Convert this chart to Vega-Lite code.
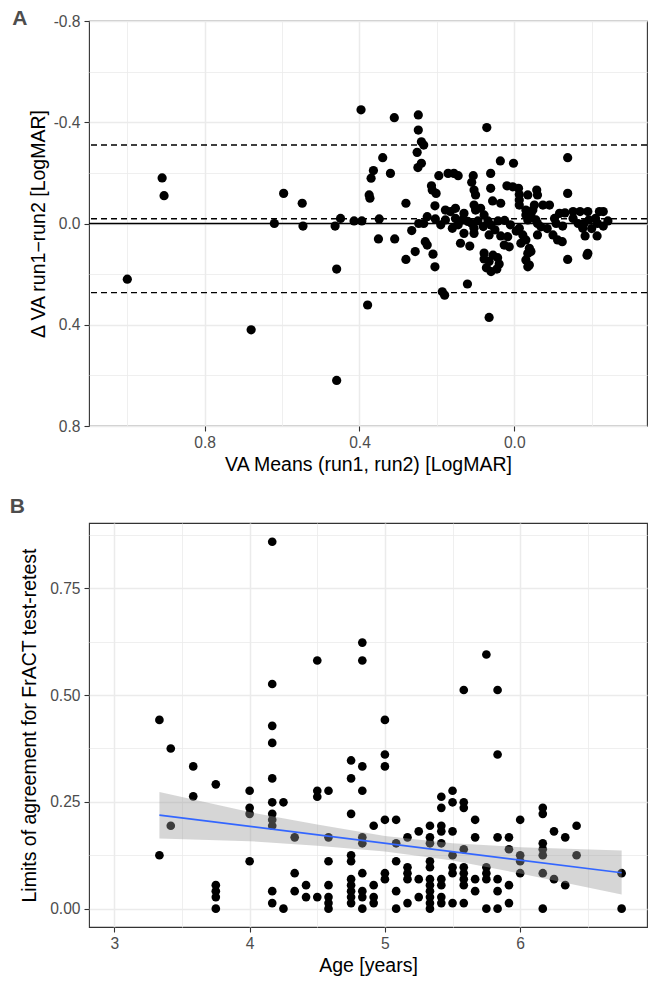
{
  "$schema": "https://vega.github.io/schema/vega-lite/v6.json",
  "padding": {"left": 9, "top": 7, "right": 5, "bottom": 5},
  "spacing": 20,
  "config": {
    "font": "Liberation Sans",
    "view": {"stroke": "#333333", "strokeWidth": 1.1},
    "axis": {
      "labelFont": "Liberation Sans",
      "labelFontSize": 15.6,
      "labelColor": "#4D4D4D",
      "titleFont": "Liberation Sans",
      "titleFontSize": 19.5,
      "titleFontWeight": "normal",
      "titleColor": "#000000",
      "tickColor": "#333333",
      "tickSize": 5,
      "tickWidth": 1.1,
      "labelPadding": 4,
      "titlePadding": 5,
      "domain": false,
      "grid": true,
      "gridColor": "#EBEBEB",
      "labelOverlap": false,
      "labelFlush": false
    }
  },
  "datasets": {
    "ba": [
      {"mean":1.0,"diff":0.22},{"mean":0.91,"diff":-0.18},{"mean":0.905,"diff":-0.11},{"mean":0.68,"diff":0.42},{"mean":0.62,"diff":0.0},{"mean":0.596,"diff":-0.119},{"mean":0.548,"diff":-0.08},{"mean":0.546,"diff":0.01},{"mean":0.463,"diff":0.01},{"mean":0.449,"diff":-0.02},{"mean":0.459,"diff":0.18},{"mean":0.459,"diff":0.62},{"mean":0.414,"diff":-0.01},{"mean":0.394,"diff":-0.01},{"mean":0.396,"diff":-0.449},{"mean":0.379,"diff":0.322},{"mean":0.375,"diff":-0.113},{"mean":0.373,"diff":-0.1},{"mean":0.37,"diff":-0.179},{"mean":0.364,"diff":-0.209},{"mean":0.349,"diff":-0.018},{"mean":0.351,"diff":0.061},{"mean":0.34,"diff":-0.26},{"mean":0.32,"diff":-0.198},{"mean":0.31,"diff":-0.418},{"mean":0.309,"diff":0.061},{"mean":0.28,"diff":-0.08},{"mean":0.28,"diff":0.142},{"mean":0.265,"diff":0.028},{"mean":0.256,"diff":0.111},{"mean":0.248,"diff":-0.429},{"mean":0.248,"diff":-0.369},{"mean":0.24,"diff":-0.323},{"mean":0.234,"diff":-0.31},{"mean":0.251,"diff":-0.281},{"mean":0.24,"diff":-0.238},{"mean":0.249,"diff":-0.221},{"mean":0.247,"diff":0.0},{"mean":0.234,"diff":0.0},{"mean":0.225,"diff":-0.027},{"mean":0.23,"diff":0.072},{"mean":0.225,"diff":0.085},{"mean":0.21,"diff":0.121},{"mean":0.205,"diff":0.171},{"mean":0.186,"diff":0.27},{"mean":0.18,"diff":0.283},{"mean":0.121,"diff":0.239},{"mean":0.065,"diff":0.371},{"mean":0.214,"diff":-0.149},{"mean":0.212,"diff":-0.132},{"mean":0.202,"diff":-0.119},{"mean":0.205,"diff":-0.07},{"mean":0.204,"diff":-0.018},{"mean":0.195,"diff":-0.189},{"mean":0.171,"diff":-0.198},{"mean":0.156,"diff":-0.198},{"mean":0.145,"diff":-0.189},{"mean":0.106,"diff":-0.189},{"mean":0.11,"diff":-0.163},{"mean":0.104,"diff":-0.132},{"mean":0.1,"diff":-0.113},{"mean":0.061,"diff":-0.198},{"mean":0.061,"diff":-0.139},{"mean":0.071,"diff":-0.379},{"mean":0.036,"diff":-0.247},{"mean":0.002,"diff":-0.238},{"mean":0.019,"diff":-0.149},{"mean":0.004,"diff":-0.145},{"mean":-0.011,"diff":-0.139},{"mean":-0.013,"diff":-0.115},{"mean":-0.013,"diff":-0.093},{"mean":-0.013,"diff":-0.073},{"mean":-0.058,"diff":-0.132},{"mean":-0.06,"diff":-0.113},{"mean":-0.035,"diff":-0.113},{"mean":0.056,"diff":-0.089},{"mean":0.035,"diff":-0.08},{"mean":0.178,"diff":-0.053},{"mean":0.165,"diff":-0.047},{"mean":0.152,"diff":-0.06},{"mean":0.13,"diff":-0.04},{"mean":0.104,"diff":-0.073},{"mean":0.1,"diff":-0.053},{"mean":0.087,"diff":-0.06},{"mean":0.078,"diff":-0.034},{"mean":0.178,"diff":-0.014},{"mean":0.152,"diff":-0.02},{"mean":0.134,"diff":-0.014},{"mean":0.12,"diff":-0.008},{"mean":0.094,"diff":-0.01},{"mean":0.068,"diff":-0.01},{"mean":0.042,"diff":-0.01},{"mean":0.025,"diff":-0.012},{"mean":-0.03,"diff":-0.034},{"mean":-0.048,"diff":-0.053},{"mean":-0.052,"diff":-0.073},{"mean":-0.138,"diff":-0.26},{"mean":-0.138,"diff":-0.119},{"mean":-0.074,"diff":-0.073},{"mean":-0.091,"diff":-0.073},{"mean":-0.03,"diff":-0.053},{"mean":-0.043,"diff":-0.034},{"mean":-0.035,"diff":-0.014},{"mean":-0.056,"diff":-0.014},{"mean":-0.06,"diff":0.0},{"mean":-0.117,"diff":-0.04},{"mean":-0.104,"diff":-0.02},{"mean":-0.108,"diff":0.0},{"mean":-0.152,"diff":-0.047},{"mean":-0.17,"diff":-0.047},{"mean":-0.19,"diff":-0.047},{"mean":-0.152,"diff":-0.02},{"mean":-0.165,"diff":0.0},{"mean":-0.18,"diff":0.0},{"mean":-0.193,"diff":-0.014},{"mean":-0.22,"diff":-0.047},{"mean":-0.23,"diff":-0.047},{"mean":-0.21,"diff":-0.02},{"mean":-0.215,"diff":0.0},{"mean":-0.242,"diff":-0.01},{"mean":0.16,"diff":0.019},{"mean":0.13,"diff":0.039},{"mean":0.104,"diff":0.039},{"mean":0.104,"diff":0.019},{"mean":0.139,"diff":0.078},{"mean":0.115,"diff":0.089},{"mean":0.065,"diff":0.045},{"mean":0.08,"diff":0.012},{"mean":0.06,"diff":0.006},{"mean":0.078,"diff":0.117},{"mean":0.055,"diff":0.125},{"mean":0.043,"diff":0.135},{"mean":0.039,"diff":0.16},{"mean":0.045,"diff":0.18},{"mean":0.06,"diff":0.19},{"mean":0.072,"diff":0.175},{"mean":0.078,"diff":0.14},{"mean":0.065,"diff":0.15},{"mean":0.035,"diff":0.049},{"mean":0.017,"diff":0.052},{"mean":0.026,"diff":0.085},{"mean":0.013,"diff":0.092},{"mean":-0.013,"diff":0.019},{"mean":-0.022,"diff":0.045},{"mean":-0.03,"diff":0.065},{"mean":-0.017,"diff":0.078},{"mean":-0.039,"diff":0.098},{"mean":-0.035,"diff":0.118},{"mean":-0.043,"diff":0.111},{"mean":-0.03,"diff":0.144},{"mean":-0.039,"diff":0.164},{"mean":-0.035,"diff":0.171},{"mean":-0.069,"diff":0.013},{"mean":-0.06,"diff":0.045},{"mean":-0.138,"diff":0.142},{"mean":-0.19,"diff":0.118},{"mean":-0.188,"diff":0.125},{"mean":-0.214,"diff":0.049},{"mean":-0.1,"diff":0.045},{"mean":-0.112,"diff":0.065},{"mean":-0.124,"diff":0.072},{"mean":-0.177,"diff":0.019},{"mean":-0.131,"diff":-0.042},{"mean":0.19,"diff":0.005},{"mean":0.145,"diff":0.005},{"mean":0.01,"diff":0.005},{"mean":-0.005,"diff":0.03},{"mean":-0.085,"diff":0.02},{"mean":-0.125,"diff":0.01},{"mean":-0.2,"diff":0.02},{"mean":-0.23,"diff":0.01},{"mean":0.11,"diff":0.0},{"mean":0.05,"diff":0.025},{"mean":-0.183,"diff":0.049}
    ],
    "balines": [
      {"diff": 0.0, "kind": "zero"},
      {"diff": -0.0185, "kind": "limit"},
      {"diff": -0.31, "kind": "limit"},
      {"diff": 0.273, "kind": "limit"}
    ],
    "age": [
      {"age":3.333,"loa":0.442},{"age":3.333,"loa":0.125},
      {"age":3.417,"loa":0.375},{"age":3.417,"loa":0.194},
      {"age":3.583,"loa":0.333},{"age":3.583,"loa":0.263},
      {"age":3.75,"loa":0.291},{"age":3.75,"loa":0.055},{"age":3.75,"loa":0.041},{"age":3.75,"loa":0.027},{"age":3.75,"loa":0.0},
      {"age":4.0,"loa":0.276},{"age":4.0,"loa":0.236},{"age":4.0,"loa":0.222},{"age":4.0,"loa":0.111},
      {"age":4.167,"loa":0.859},{"age":4.167,"loa":0.526},{"age":4.167,"loa":0.428},{"age":4.167,"loa":0.388},{"age":4.167,"loa":0.305},{"age":4.167,"loa":0.249},{"age":4.167,"loa":0.222},{"age":4.167,"loa":0.208},{"age":4.167,"loa":0.194},{"age":4.167,"loa":0.041},{"age":4.167,"loa":0.013},
      {"age":4.25,"loa":0.249},{"age":4.25,"loa":0.0},
      {"age":4.333,"loa":0.167},{"age":4.333,"loa":0.083},{"age":4.333,"loa":0.041},
      {"age":4.417,"loa":0.055},{"age":4.417,"loa":0.027},
      {"age":4.5,"loa":0.581},{"age":4.5,"loa":0.276},{"age":4.5,"loa":0.262},{"age":4.5,"loa":0.027},
      {"age":4.583,"loa":0.276},{"age":4.583,"loa":0.167},{"age":4.583,"loa":0.111},{"age":4.583,"loa":0.055},{"age":4.583,"loa":0.027},{"age":4.583,"loa":0.013},{"age":4.583,"loa":0.0},
      {"age":4.75,"loa":0.347},{"age":4.75,"loa":0.305},{"age":4.75,"loa":0.222},{"age":4.75,"loa":0.125},{"age":4.75,"loa":0.111},{"age":4.75,"loa":0.069},{"age":4.75,"loa":0.055},{"age":4.75,"loa":0.041},{"age":4.75,"loa":0.027},{"age":4.75,"loa":0.013},
      {"age":4.833,"loa":0.623},{"age":4.833,"loa":0.581},{"age":4.833,"loa":0.333},{"age":4.833,"loa":0.276},{"age":4.833,"loa":0.167},{"age":4.833,"loa":0.153},{"age":4.833,"loa":0.083},{"age":4.833,"loa":0.041},{"age":4.833,"loa":0.027},{"age":4.833,"loa":0.0},
      {"age":4.917,"loa":0.194},{"age":4.917,"loa":0.055},{"age":4.917,"loa":0.027},{"age":4.917,"loa":0.013},
      {"age":5.0,"loa":0.442},{"age":5.0,"loa":0.361},{"age":5.0,"loa":0.333},{"age":5.0,"loa":0.208},{"age":5.0,"loa":0.083},{"age":5.0,"loa":0.069},
      {"age":5.083,"loa":0.208},{"age":5.083,"loa":0.153},{"age":5.083,"loa":0.111},{"age":5.083,"loa":0.041},{"age":5.083,"loa":0.0},
      {"age":5.167,"loa":0.167},{"age":5.167,"loa":0.097},{"age":5.167,"loa":0.083},{"age":5.167,"loa":0.069},{"age":5.167,"loa":0.013},
      {"age":5.25,"loa":0.181},{"age":5.25,"loa":0.069},{"age":5.25,"loa":0.027},
      {"age":5.333,"loa":0.194},{"age":5.333,"loa":0.167},{"age":5.333,"loa":0.153},{"age":5.333,"loa":0.111},{"age":5.333,"loa":0.097},{"age":5.333,"loa":0.069},{"age":5.333,"loa":0.055},{"age":5.333,"loa":0.041},{"age":5.333,"loa":0.027},{"age":5.333,"loa":0.013},{"age":5.333,"loa":0.0},
      {"age":5.417,"loa":0.262},{"age":5.417,"loa":0.236},{"age":5.417,"loa":0.194},{"age":5.417,"loa":0.181},{"age":5.417,"loa":0.153},{"age":5.417,"loa":0.069},{"age":5.417,"loa":0.055},{"age":5.417,"loa":0.027},{"age":5.417,"loa":0.013},
      {"age":5.5,"loa":0.276},{"age":5.5,"loa":0.249},{"age":5.5,"loa":0.181},{"age":5.5,"loa":0.125},{"age":5.5,"loa":0.097},{"age":5.5,"loa":0.083},{"age":5.5,"loa":0.013},
      {"age":5.583,"loa":0.512},{"age":5.583,"loa":0.249},{"age":5.583,"loa":0.236},{"age":5.583,"loa":0.139},{"age":5.583,"loa":0.097},{"age":5.583,"loa":0.083},{"age":5.583,"loa":0.069},{"age":5.583,"loa":0.055},{"age":5.583,"loa":0.013},
      {"age":5.667,"loa":0.208},{"age":5.667,"loa":0.167},{"age":5.667,"loa":0.069},{"age":5.667,"loa":0.041},
      {"age":5.75,"loa":0.595},{"age":5.75,"loa":0.097},{"age":5.75,"loa":0.083},{"age":5.75,"loa":0.069},{"age":5.75,"loa":0.0},
      {"age":5.833,"loa":0.512},{"age":5.833,"loa":0.361},{"age":5.833,"loa":0.167},{"age":5.833,"loa":0.069},{"age":5.833,"loa":0.041},{"age":5.833,"loa":0.0},
      {"age":5.917,"loa":0.167},{"age":5.917,"loa":0.139},{"age":5.917,"loa":0.055},{"age":5.917,"loa":0.013},
      {"age":6.0,"loa":0.208},{"age":6.0,"loa":0.125},{"age":6.0,"loa":0.111},{"age":6.0,"loa":0.083},
      {"age":6.167,"loa":0.236},{"age":6.167,"loa":0.222},{"age":6.167,"loa":0.153},{"age":6.167,"loa":0.139},{"age":6.167,"loa":0.125},{"age":6.167,"loa":0.083},{"age":6.167,"loa":0.0},
      {"age":6.25,"loa":0.181},{"age":6.25,"loa":0.069},
      {"age":6.333,"loa":0.167},{"age":6.333,"loa":0.055},
      {"age":6.417,"loa":0.194},{"age":6.417,"loa":0.125},
      {"age":6.75,"loa":0.083},{"age":6.75,"loa":0.0}
    ],
    "band": [
      {"age":3.333,"loa":0.164,"loa2":0.273},
      {"age":4.0,"loa":0.158,"loa2":0.226},
      {"age":4.5,"loa":0.147,"loa2":0.197},
      {"age":5.0,"loa":0.134,"loa2":0.170},
      {"age":5.5,"loa":0.113,"loa2":0.153},
      {"age":6.0,"loa":0.082,"loa2":0.144},
      {"age":6.75,"loa":0.033,"loa2":0.136}
    ],
    "fit": [
      {"age":3.333,"loa":0.219},
      {"age":6.75,"loa":0.084}
    ]
  },
  "vconcat": [
    {
      "width": 558,
      "height": 405,
      "title": {"text": "A", "anchor": "start", "frame": "bounds", "orient": "top", "offset": 0, "dx": -16, "dy": 32, "baseline": "alphabetic", "fontSize": 21, "fontWeight": "bold", "color": "#4D4D4D", "font": "Liberation Sans"},
      "encoding": {
        "y": {
          "field": "diff", "type": "quantitative",
          "scale": {"domain": [-0.8, 0.8], "reverse": true, "nice": false, "zero": false},
          "axis": {
            "title": "Δ VA run1−run2 [LogMAR]",
            "values": [-0.8, -0.6, -0.4, -0.2, 0, 0.2, 0.4, 0.6, 0.8],
            "labelExpr": "abs(round(datum.value*10)) % 4 == 0 ? (datum.value < -0.001 ? '-' : '') + format(abs(datum.value), '.1f') : ''",
            "tickOpacity": {"condition": {"test": "abs(round(datum.value*10)) % 4 == 0", "value": 1}, "value": 0},
            "gridWidth": {"condition": {"test": "abs(round(datum.value*10)) % 4 == 0", "value": 1.5}, "value": 0.8}
          }
        }
      },
      "layer": [
        {
          "data": {"name": "balines"},
          "mark": {"type": "rule", "color": "#000000", "strokeWidth": 1.4},
          "encoding": {
            "strokeDash": {"field": "kind", "type": "nominal", "scale": {"domain": ["zero", "limit"], "range": [[1, 0], [6, 4]]}, "legend": null}
          }
        },
        {
          "data": {"name": "ba"},
          "mark": {"type": "circle", "size": 85, "color": "#000000", "opacity": 1},
          "encoding": {
            "x": {
              "field": "mean", "type": "quantitative",
              "scale": {"domain": [-0.343, 1.099], "reverse": true, "nice": false, "zero": false},
              "axis": {
                "title": "VA Means (run1, run2) [LogMAR]",
                "values": [-0.2, 0, 0.2, 0.4, 0.6, 0.8, 1.0],
                "labelExpr": "abs(round(datum.value*10)) % 4 == 0 ? (datum.value < -0.001 ? '-' : '') + format(abs(datum.value), '.1f') : ''",
                "tickOpacity": {"condition": {"test": "abs(round(datum.value*10)) % 4 == 0", "value": 1}, "value": 0},
                "gridWidth": {"condition": {"test": "abs(round(datum.value*10)) % 4 == 0", "value": 1.5}, "value": 0.8}
              }
            }
          }
        }
      ]
    },
    {
      "width": 558,
      "height": 404,
      "title": {"text": "B", "anchor": "start", "frame": "bounds", "orient": "top", "offset": -11, "dx": -10, "baseline": "alphabetic", "fontSize": 21, "fontWeight": "bold", "color": "#4D4D4D", "font": "Liberation Sans"},
      "encoding": {
        "x": {
          "field": "age", "type": "quantitative",
          "scale": {"domain": [2.8125, 6.9375], "nice": false, "zero": false},
          "axis": {
            "title": "Age [years]",
            "values": [3, 3.5, 4, 4.5, 5, 5.5, 6, 6.5],
            "labelExpr": "datum.value % 1 == 0 ? format(datum.value, 'd') : ''",
            "tickOpacity": {"condition": {"test": "datum.value % 1 == 0", "value": 1}, "value": 0},
            "gridWidth": {"condition": {"test": "datum.value % 1 == 0", "value": 1.5}, "value": 0.8}
          }
        },
        "y": {
          "field": "loa", "type": "quantitative",
          "scale": {"domain": [-0.043, 0.903], "nice": false, "zero": false},
          "axis": {
            "title": "Limits of agreement for FrACT test-retest",
            "titlePadding": 10,
            "values": [0, 0.125, 0.25, 0.375, 0.5, 0.625, 0.75, 0.875],
            "labelExpr": "round(datum.value*1000) % 250 == 0 ? format(datum.value, '.2f') : ''",
            "tickOpacity": {"condition": {"test": "round(datum.value*1000) % 250 == 0", "value": 1}, "value": 0},
            "gridWidth": {"condition": {"test": "round(datum.value*1000) % 250 == 0", "value": 1.5}, "value": 0.8}
          }
        }
      },
      "layer": [
        {
          "data": {"name": "age"},
          "mark": {"type": "circle", "size": 75, "color": "#000000", "opacity": 1}
        },
        {
          "data": {"name": "band"},
          "mark": {"type": "area", "color": "#999999", "opacity": 0.4},
          "encoding": {"y2": {"field": "loa2"}}
        },
        {
          "data": {"name": "fit"},
          "mark": {"type": "line", "color": "#3366FF", "strokeWidth": 1.6}
        }
      ]
    }
  ]
}
